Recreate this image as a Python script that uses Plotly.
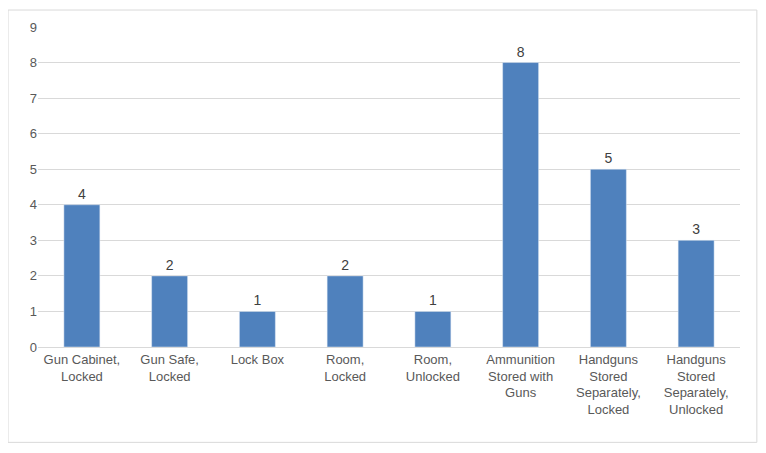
import plotly.graph_objects as go

categories = [
    "Gun Cabinet,<br>Locked", "Gun Safe,<br>Locked", "Lock Box", "Room,<br>Locked",
    "Room,<br>Unlocked", "Ammunition<br>Stored with<br>Guns",
    "Handguns<br>Stored<br>Separately,<br>Locked",
    "Handguns<br>Stored<br>Separately,<br>Unlocked",
]
values = [4, 2, 1, 2, 1, 8, 5, 3]

fig = go.Figure(go.Bar(
    x=categories, y=values, marker_color="#4F81BD",
    text=values, textposition="outside", cliponaxis=False,
    textfont=dict(size=14, color="#404040"),
))

fig.update_layout(
    width=766, height=453,
    margin=dict(l=30, r=34, t=17, b=114),
    plot_bgcolor="white", paper_bgcolor="white",
    bargap=0.59, showlegend=False,
    font=dict(family="Liberation Sans, Arial", size=13, color="#595959"),
    shapes=[dict(type="rect", xref="paper", yref="paper",
                 x0=-0.0427, x1=1.024, y0=-0.298, y1=1.053,
                 line=dict(color="#D9D9D9", width=1))],
)
fig.update_xaxes(showline=True, linecolor="#D9D9D9", ticks="", tickangle=0)
fig.update_yaxes(range=[0, 9], dtick=1, gridcolor="#D9D9D9", zeroline=False, showline=False)

fig.write_html("out.html")
